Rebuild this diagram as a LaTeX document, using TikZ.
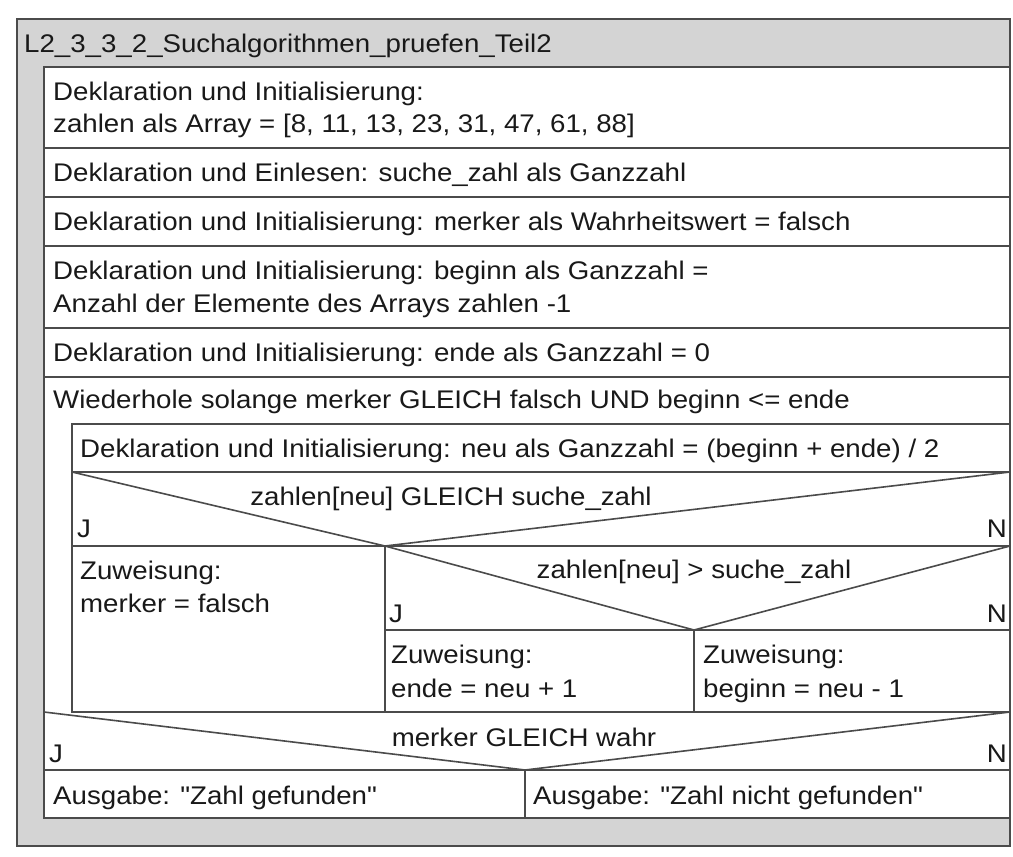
\documentclass[tikz,border=0pt]{standalone}
\usepackage{fontspec}
\setmainfont{Liberation Sans}[FakeStretch=1.085, Ligatures=TeXOff]
\definecolor{linegray}{RGB}{75,75,75}
\definecolor{panelgray}{RGB}{212,212,212}
\definecolor{textgray}{RGB}{25,25,25}
\begin{document}
\begin{tikzpicture}[x=1pt,y=-1pt,
  frame/.style={draw=linegray, line width=1.6pt},
  lbl/.style={anchor=base west, inner sep=0pt, text=textgray,
              font=\fontsize{25.5}{32}\selectfont},
  clbl/.style={lbl, anchor=base},
  rlbl/.style={lbl, anchor=base east}]
\useasboundingbox (0,0) rectangle (1013,857);
\fill[white] (0,0) rectangle (1013,857);

% outer program frame with grey title band and margins
\draw[frame, fill=panelgray] (17,19) rectangle (1010,846);
\draw[frame, fill=white] (44,67) rectangle (1010,818);

% sequence of statements
\draw[frame] (44,148) -- (1010,148);
\draw[frame] (44,197) -- (1010,197);
\draw[frame] (44,246) -- (1010,246);
\draw[frame] (44,328) -- (1010,328);
\draw[frame] (44,377) -- (1010,377);

% while loop body
\draw[frame] (72,424) rectangle (1010,712);
\draw[frame] (72,472) -- (1010,472);
% first decision
\coordinate (d1l) at (72,472);
\coordinate (d1v) at (385,546);
\coordinate (d1r) at (1010,472);
\draw[frame] (d1l) -- (d1v) -- (d1r);
\draw[frame] (72,546) -- (1010,546);
\draw[frame] (d1v) -- (385,712);
% nested decision
\coordinate (d2l) at (385,546);
\coordinate (d2v) at (694,630);
\coordinate (d2r) at (1010,546);
\draw[frame] (d2l) -- (d2v) -- (d2r);
\draw[frame] (385,630) -- (1010,630);
\draw[frame] (d2v) -- (694,712);

% final decision
\coordinate (d3l) at (44,712);
\coordinate (d3v) at (525,770);
\coordinate (d3r) at (1010,712);
\draw[frame] (d3l) -- (d3v) -- (d3r);
\draw[frame] (44,770) -- (1010,770);
\draw[frame] (d3v) -- (525,818);

% texts
\node[lbl] (title) at (24,52) {L2\_3\_3\_2\_Suchalgorithmen\_pruefen\_Teil2};
\node[lbl] (s1a) at (53,100) {Deklaration und Initialisierung:};
\node[lbl] (s1b) at (53,132) {zahlen als Array = [8, 11, 13, 23, 31, 47, 61, 88]};
\node[lbl] (s2) at (53,181) {Deklaration und Einlesen: suche\_zahl als Ganzzahl};
\node[lbl] (s3) at (53,230) {Deklaration und Initialisierung: merker als Wahrheitswert = falsch};
\node[lbl] (s4a) at (53,279) {Deklaration und Initialisierung: beginn als Ganzzahl =};
\node[lbl] (s4b) at (53,312) {Anzahl der Elemente des Arrays zahlen -1};
\node[lbl] (s5) at (53,361) {Deklaration und Initialisierung: ende als Ganzzahl = 0};
\node[lbl] (loop) at (53,408) {Wiederhole solange merker GLEICH falsch UND beginn <= ende};
\node[lbl] (b1) at (80,457) {Deklaration und Initialisierung: neu als Ganzzahl = (beginn + ende) / 2};

\node[clbl] (c1) at (451,505) {zahlen[neu] GLEICH suche\_zahl};
\node[lbl] (c1j) at (77,537) {J};
\node[rlbl] (c1n) at (1007,537) {N};
\node[lbl] (a1a) at (80,579) {Zuweisung:};
\node[lbl] (a1b) at (80,612) {merker = falsch};

\node[clbl] (c2) at (694,578) {zahlen[neu] > suche\_zahl};
\node[lbl] (c2j) at (389,622) {J};
\node[rlbl] (c2n) at (1007,622) {N};
\node[lbl] (a2a) at (391,663) {Zuweisung:};
\node[lbl] (a2b) at (391,697) {ende = neu + 1};
\node[lbl] (a3a) at (703,663) {Zuweisung:};
\node[lbl] (a3b) at (703,697) {beginn = neu - 1};

\node[clbl] (c3) at (524,746) {merker GLEICH wahr};
\node[lbl] (c3j) at (49,762) {J};
\node[rlbl] (c3n) at (1007,762) {N};
\node[lbl] (o1) at (53,804) {Ausgabe: "Zahl gefunden"};
\node[lbl] (o2) at (533,804) {Ausgabe: "Zahl nicht gefunden"};
\end{tikzpicture}
\end{document}
